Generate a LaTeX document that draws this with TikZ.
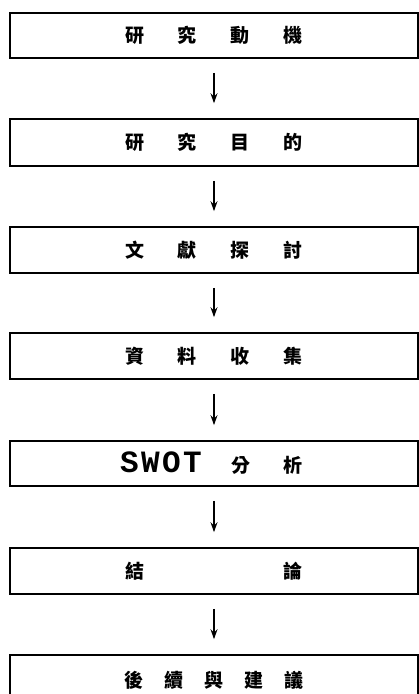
\documentclass[tikz,border=0pt]{standalone}
\usepackage{fontspec}
\newfontfamily\cjk{Noto Sans CJK TC}
\newfontfamily\monof{Liberation Mono}
\usetikzlibrary{arrows.meta}
\newcommand{\slotc}[1]{\makebox[53pt]{#1}}
\newcommand{\slotd}[1]{\makebox[40pt]{#1}}
\newcommand{\slotl}[1]{\makebox[21pt]{#1}}
\begin{document}
\begin{tikzpicture}[x=1pt,y=-1pt,
  stagebox/.style={draw, line width=1.6pt, minimum width=408pt, inner sep=0pt,
    font=\cjk\bfseries\fontsize{19}{19}\selectfont},
  flow/.style={line width=1.3pt, -{Stealth[length=10pt,width=7pt]},
    shorten <=14pt, shorten >=15pt}]
\useasboundingbox (0,0) rectangle (419,694);
\clip (0,0) rectangle (419,694);
\node[stagebox, minimum height=45pt] (b1) at (214,35.5)
  {\slotc{研}\slotc{究}\slotc{動}\slotc{機}};
\node[stagebox, minimum height=47pt] (b2) at (214,142.5)
  {\slotc{研}\slotc{究}\slotc{目}\slotc{的}};
\node[stagebox, minimum height=46pt] (b3) at (214,250)
  {\slotc{文}\slotc{獻}\slotc{探}\slotc{討}};
\node[stagebox, minimum height=46pt] (b4) at (214,356)
  {\slotc{資}\slotc{料}\slotc{收}\slotc{集}};
\node[stagebox, minimum height=45pt] (b5) at (214,463.5)
  {\makebox[106pt]{\monof\bfseries\fontsize{31}{31}\selectfont
    \slotl{S}\slotl{W}\slotl{O}\slotl{T}}\slotc{分}\slotc{析}};
\node[stagebox, minimum height=46pt] (b6) at (214,571)
  {\slotc{結}\slotc{}\slotc{}\slotc{論}};
\node[stagebox, minimum height=50pt] (b7) at (214,680)
  {\slotd{後}\slotd{續}\slotd{與}\slotd{建}\slotd{議}};
\draw[flow] (b1) -- (b2);
\draw[flow] (b2) -- (b3);
\draw[flow] (b3) -- (b4);
\draw[flow] (b4) -- (b5);
\draw[flow] (b5) -- (b6);
\draw[flow] (b6) -- (b7);
\end{tikzpicture}
\end{document}
